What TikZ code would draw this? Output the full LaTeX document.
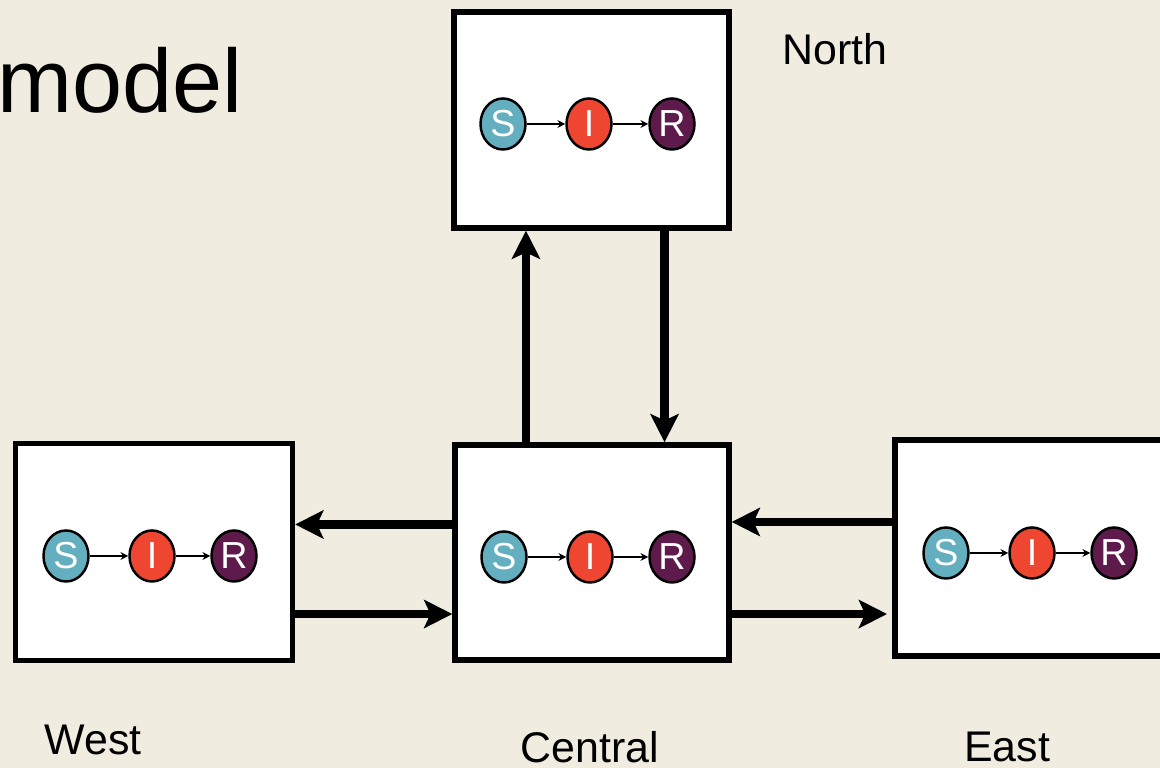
\documentclass[tikz,border=0pt]{standalone}
\usepackage{fontspec}
\setmainfont{Liberation Sans}
\usepackage{xcolor}
\usepackage{tikz}
\usetikzlibrary{arrows.meta,positioning,shapes.geometric}
\definecolor{slidebg}{RGB}{240,236,223}
\definecolor{susc}{RGB}{99,174,191}
\definecolor{infd}{RGB}{238,70,49}
\definecolor{recv}{RGB}{94,26,75}
\tikzset{
  regionbox/.style={draw=black,fill=white,line width=1.5pt,inner sep=0pt},
  compartment/.style={ellipse,draw=black,line width=0.7pt,inner sep=0pt,
    minimum width=0.45cm,minimum height=0.51cm,text=white,
    font=\fontsize{10.7}{12}\selectfont},
  migrate/.style={-{Stealth[length=8pt,width=8pt,inset=1.8pt]},line width=2.5pt},
  transition/.style={-{Stealth[length=2.2pt,width=2.2pt]},line width=0.6pt},
  regionlabel/.style={font=\fontsize{12.2}{14}\selectfont,inner sep=0pt,anchor=base}
}

\begin{document}
\begin{tikzpicture}[x=0.01cm,y=-0.01cm]
  \useasboundingbox (0,0) rectangle (1160,768);
  \clip (0,0) rectangle (1160,768);
  \fill[slidebg] (0,0) rectangle (1160,768);
  \node[font=\fontsize{25.6}{30}\selectfont,inner sep=0pt,anchor=base east] (title) at (243,113) {model};

  \node[regionbox,minimum width=2.75cm,minimum height=2.16cm] (north) at (591.5,120) {};
  \node[regionbox,minimum width=2.77cm,minimum height=2.17cm] (west) at (154,552) {};
  \node[regionbox,minimum width=2.74cm,minimum height=2.15cm] (central) at (592,552.5) {};
  \node[regionbox,minimum width=2.75cm,minimum height=2.16cm] (east) at (1032.5,548) {};

  \node[compartment,fill=susc] (northS) at (503,124) {S};
  \node[compartment,fill=infd] (northI) at (589,124) {I};
  \node[compartment,fill=recv] (northR) at (672,124) {R};
  \node[compartment,fill=susc] (westS) at (66,556) {S};
  \node[compartment,fill=infd] (westI) at (152,556) {I};
  \node[compartment,fill=recv] (westR) at (234,556) {R};
  \node[compartment,fill=susc] (centralS) at (504,557) {S};
  \node[compartment,fill=infd] (centralI) at (590,557) {I};
  \node[compartment,fill=recv] (centralR) at (672,557) {R};
  \node[compartment,fill=susc] (eastS) at (946,553) {S};
  \node[compartment,fill=infd] (eastI) at (1032,553) {I};
  \node[compartment,fill=recv] (eastR) at (1114,553) {R};

  \draw[transition] (northS) -- (northI);
  \draw[transition] (northI) -- (northR);
  \draw[transition] (westS) -- (westI);
  \draw[transition] (westI) -- (westR);
  \draw[transition] (centralS) -- (centralI);
  \draw[transition] (centralI) -- (centralR);
  \draw[transition] (eastS) -- (eastI);
  \draw[transition] (eastI) -- (eastR);

  \draw[migrate] ([xshift=-0.66cm]central.north) -- ([xshift=-0.66cm]central.north |- north.south);
  \draw[migrate] ([xshift=0.73cm]north.south) -- ([xshift=0.73cm]north.south |- central.north);
  \draw[migrate] ([yshift=0.28cm]central.west) -- ([yshift=0.28cm]central.west -| west.east);
  \draw[migrate] ([yshift=-0.62cm]west.east) -- ([yshift=-0.62cm]west.east -| central.west);
  \draw[migrate] ([yshift=0.26cm]east.west) -- ([yshift=0.26cm]east.west -| central.east);
  \draw[migrate] ([yshift=-0.615cm]central.east) -- ([yshift=-0.615cm,xshift=-1.5pt]central.east -| east.west);

  \node[regionlabel] (northlabel) at (835,65) {North};
  \node[regionlabel] (westlabel) at (93,755) {West};
  \node[regionlabel] (centrallabel) at (590,763) {Central};
  \node[regionlabel] (eastlabel) at (1007,762) {East};
\end{tikzpicture}
\end{document}
